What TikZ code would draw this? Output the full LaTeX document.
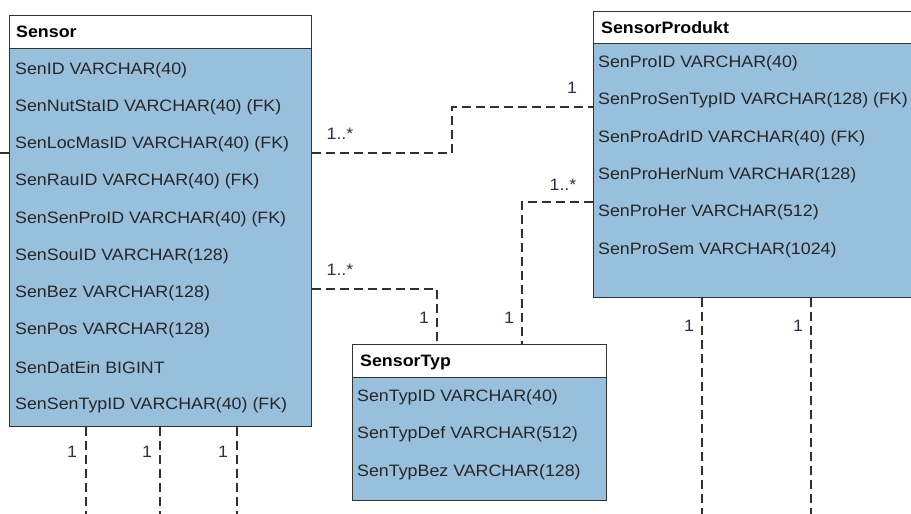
\documentclass[tikz,border=0pt]{standalone}
\usepackage{fontspec}
\setmainfont[FakeStretch=1.08]{Liberation Sans}
\begin{document}
\begin{tikzpicture}[x=1pt,y=-1pt,
  box/.style={draw=boxline, line width=1.4pt, rectangle, inner sep=0pt, anchor=north west},
  headbox/.style={box, fill=white},
  bodybox/.style={box, fill=bodyblue},
  rowtext/.style={anchor=west, inner sep=0pt, font=\fontsize{16.5}{18}\selectfont, text=rowc},
  headtext/.style={anchor=west, inner sep=0pt, font=\fontsize{16.5}{18}\selectfont\bfseries, text=black},
  conn/.style={draw=connc, line width=1.4pt, dash pattern=on 9pt off 5pt},
  mult/.style={inner sep=0pt, font=\fontsize{16.5}{18}\selectfont, text=multc}
]
\definecolor{bodyblue}{HTML}{98BFDC}
\definecolor{boxline}{HTML}{333333}
\definecolor{connc}{HTML}{303030}
\definecolor{rowc}{HTML}{262626}
\definecolor{multc}{HTML}{3A2A48}
\useasboundingbox (0,0) rectangle (911,514);
\clip (0,0) rectangle (911,514);

% ---------- Sensor ----------
\node[headbox, minimum width=302pt, minimum height=33pt] (senHead) at (9,15) {};
\node[bodybox, minimum width=302pt, minimum height=378pt] (senBody) at (9,48) {};
\node[headtext] (senTitle) at (16,32) {Sensor};
\foreach \t [count=\i from 0] in {SenID VARCHAR(40),
  SenNutStaID VARCHAR(40) (FK),
  SenLocMasID VARCHAR(40) (FK),
  SenRauID VARCHAR(40) (FK),
  SenSenProID VARCHAR(40) (FK),
  SenSouID VARCHAR(128),
  SenBez VARCHAR(128),
  SenPos VARCHAR(128),
  SenDatEin BIGINT,
  SenSenTypID VARCHAR(40) (FK)}
  \node[rowtext] (senRow\i) at (15,{70+37.2*\i}) {\t};

% ---------- SensorProdukt ----------
\node[headbox, minimum width=340pt, minimum height=32pt] (proHead) at (593,11) {};
\node[bodybox, minimum width=340pt, minimum height=254pt] (proBody) at (593,43) {};
\node[headtext] (proTitle) at (601,28) {SensorProdukt};
\foreach \t [count=\i from 0] in {SenProID VARCHAR(40),
  SenProSenTypID VARCHAR(128) (FK),
  SenProAdrID VARCHAR(40) (FK),
  SenProHerNum VARCHAR(128),
  SenProHer VARCHAR(512),
  SenProSem VARCHAR(1024)}
  \node[rowtext] (proRow\i) at (598,{63+37.4*\i}) {\t};

% ---------- SensorTyp ----------
\node[headbox, minimum width=254pt, minimum height=33pt] (typHead) at (352,344) {};
\node[bodybox, minimum width=254pt, minimum height=123pt] (typBody) at (352,377) {};
\node[headtext] (typTitle) at (360,362) {SensorTyp};
\foreach \t [count=\i from 0] in {SenTypID VARCHAR(40),
  SenTypDef VARCHAR(512),
  SenTypBez VARCHAR(128)}
  \node[rowtext] (typRow\i) at (357,{397+37.5*\i}) {\t};

% ---------- helper coordinates ----------
\coordinate (yA) at (0,153);
\coordinate (yB) at (0,107);
\coordinate (yC) at (0,289);
\coordinate (yD) at (0,202);
\coordinate (bend1) at (452,153);
\coordinate (bend2) at (452,107);
\coordinate (xC) at (437,0);
\coordinate (xD) at (522,0);
\coordinate (leftEnd) at (0,153);

% ---------- connectors ----------
\draw[conn] (senBody.east |- yA) -- (bend1) -- (bend2) -- (proBody.west |- yB);
\draw[conn] (senBody.east |- yC) -| (typHead.north -| xC);
\draw[conn] (proBody.west |- yD) -| (typHead.north -| xD);
\draw[conn] (leftEnd) -- (senBody.west |- leftEnd);

\foreach \x [count=\i] in {86,160,237} {
  \coordinate (sd\i) at (\x,514);
  \draw[conn] (senBody.south -| sd\i) -- (sd\i);
}
\foreach \x [count=\i] in {702,811} {
  \coordinate (pd\i) at (\x,514);
  \draw[conn] (proBody.south -| pd\i) -- (pd\i);
}

% ---------- multiplicities ----------
\node[mult] (m1) at (340,134) {1..*};
\node[mult] (m2) at (572,88) {1};
\node[mult] (m3) at (340,270) {1..*};
\node[mult] (m4) at (424,318) {1};
\node[mult] (m5) at (563,185) {1..*};
\node[mult] (m6) at (509,318) {1};
\node[mult] (m7) at (689,326) {1};
\node[mult] (m8) at (798,326) {1};
\node[mult] (m9) at (72,452) {1};
\node[mult] (m10) at (147,452) {1};
\node[mult] (m11) at (223,452) {1};
\end{tikzpicture}
\end{document}
